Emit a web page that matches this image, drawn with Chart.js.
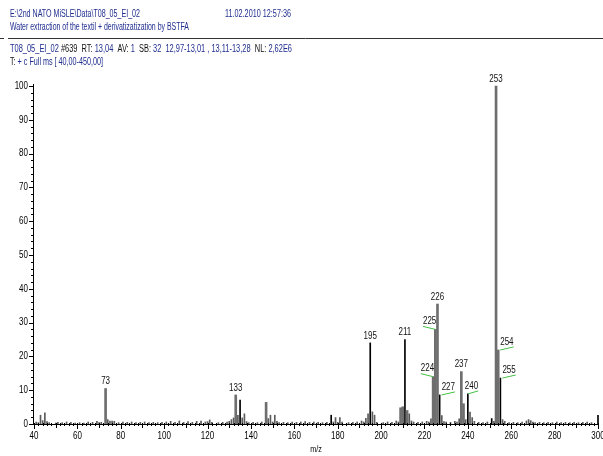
<!DOCTYPE html>
<html>
<head>
<meta charset="utf-8">
<script src="https://cdn.jsdelivr.net/npm/chart.js@4.4.1/dist/chart.umd.min.js"></script>
<style>
  html, body { margin: 0; padding: 0; background: #fff; }
  #wrap { width: 603px; height: 456px; position: relative; }
</style>
</head>
<body>
<div id="wrap"><canvas id="spec" width="603" height="456"></canvas></div>
<script>
// Mass spectrum of scan #639 (m/z and relative abundance, %)
const massValues = [41,42,43,44,45,46,47,50,51,53,55,57,59,61,63,65,67,69,70,71,
  73,74,75,76,77,79,81,83,85,87,89,91,93,95,97,99,101,103,105,107,109,111,113,115,117,119,120,121,122,125,
  127,129,130,131,132,133,134,135,136,137,138,139,141,143,145,147,148,149,150,151,152,153,155,157,159,161,163,165,167,169,
  171,173,175,177,178,179,180,181,182,185,187,189,191,192,193,194,195,196,197,198,201,203,205,207,208,209,210,211,212,213,214,215,
  217,219,221,222,223,224,225,226,227,228,229,230,232,234,235,236,237,238,239,240,241,242,243,245,247,249,251,252,253,254,255,256,257,
  259,261,263,265,267,268,269,270,271,273,275,277,279,281,283,285,287,289,291,293,295,297,300];
const abundanceValues = [0.6,0.4,2.6,1.0,3.3,0.7,0.4,0.3,0.5,0.4,0.6,0.5,0.3,0.4,0.3,0.6,0.5,0.8,0.4,0.5,
  10.5,1.3,0.9,0.9,0.8,0.4,0.6,0.5,0.6,0.4,0.5,0.6,0.4,0.5,0.4,0.5,0.6,0.8,0.5,0.9,0.5,0.7,0.5,0.8,0.9,0.6,0.7,1.2,0.5,0.4,
  0.5,0.6,0.8,1.3,1.8,8.6,2.6,7.1,1.8,3.0,0.7,0.4,0.5,0.4,0.6,6.4,1.6,2.6,0.6,2.6,0.8,0.4,0.5,0.4,0.6,0.5,0.6,0.7,0.5,0.6,
  0.5,0.4,0.5,2.6,0.6,1.9,0.5,1.9,0.6,0.4,0.5,0.6,0.9,0.6,1.7,3.0,24.0,3.6,2.6,0.5,0.4,0.6,0.5,0.9,0.6,4.8,5.1,25.0,4.0,3.0,0.9,0.6,
  0.5,0.6,0.8,0.6,1.5,14.0,28.0,35.5,8.6,2.5,0.7,0.6,0.5,0.8,0.6,1.5,15.5,6.0,1.3,8.9,3.5,1.9,0.8,0.5,0.4,0.6,1.6,0.8,100,21.9,13.6,1.3,0.8,
  0.4,0.5,0.4,0.6,0.9,1.3,1.0,0.6,0.4,0.5,0.4,0.5,0.4,0.6,0.4,0.5,0.4,0.5,0.4,0.5,0.6,0.4,2.6];

// Annotated peaks
const labelledMasses = [73,133,195,211,224,225,226,227,237,240,253,254,255];

// Axis ticks
const xTickLabels = [40,60,80,100,120,140,160,180,200,220,240,260,280,300];
const yTickLabels = [0,10,20,30,40,50,60,70,80,90,100];

// Header lines: [text, colour] segments
const BLUE = '#1f2d8f', INK = '#111';
const headerLines = [
  { x: 10, y: 17, w: 130, segs: [['E:\\2nd NATO MiSLE\\Data\\T08_05_EI_02', BLUE]] },
  { x: 225, y: 17, w: 66, segs: [['11.02.2010 12:57:36', BLUE]] },
  { x: 10, y: 30, w: 179, segs: [['Water extraction of the textil + derivatizatization by BSTFA', BLUE]] },
  { x: 10, y: 52, w: 282, segs: [['T08_05_EI_02 ', BLUE], ['#639  RT: ', INK], ['13,04', BLUE], ['  AV: ', INK], ['1', BLUE],
      ['  SB: ', INK], ['32  12,97-13,01 , 13,11-13,28', BLUE], ['  NL: ', INK], ['2,62E6', BLUE]] },
  { x: 10, y: 65, w: 93, segs: [['T: ', INK], ['+ c Full ms [ 40,00-450,00]', BLUE]] }
];

// Drawing styles
const FONT = '"Liberation Sans Narrow", "Arial Narrow", "Liberation Sans", Arial, sans-serif';
const NARROW = 0.8;
const darkMasses = new Set([135,177,195,211,227,240,251,255,300]);
const leftLabelled = new Set([224,225]);
const rightLabelled = new Set([227,240,254,255]);

const points = massValues.map((m, i) => ({ x: m, y: abundanceValues[i] }));
const darkPts = points.filter(p => darkMasses.has(p.x));
const greyPts = points.filter(p => !darkMasses.has(p.x) && p.y >= 4);
const noisePts = points.filter(p => !darkMasses.has(p.x) && p.y < 4);

function fitText(ctx, segs, x, y, width, size) {
  ctx.save();
  ctx.font = size + 'px ' + FONT;
  const full = segs.map(s => s[0]).join('');
  const natural = ctx.measureText(full).width;
  const k = width / natural;
  ctx.translate(x, y);
  ctx.scale(k, 1);
  let cx = 0;
  ctx.textBaseline = 'alphabetic';
  ctx.textAlign = 'left';
  for (const [t, c] of segs) {
    ctx.fillStyle = c;
    ctx.fillText(t, cx, 0);
    cx += ctx.measureText(t).width;
  }
  ctx.restore();
}

// condensed text; align: 'left' | 'center' | 'right' relative to x
function narrowText(ctx, txt, x, y, align, baseline) {
  const w = ctx.measureText(txt).width * NARROW;
  const left = align === 'left' ? x : (align === 'right' ? x - w : x - w / 2);
  ctx.save();
  ctx.translate(left, y);
  ctx.scale(NARROW, 1);
  ctx.textAlign = 'left';
  ctx.textBaseline = baseline;
  ctx.fillText(txt, 0, 0);
  ctx.restore();
  return w;
}

const spectrumDecor = {
  id: 'spectrumDecor',
  afterDraw(chart) {
    const ctx = chart.ctx;
    const xs = chart.scales.x, ys = chart.scales.y;
    const x0 = xs.getPixelForValue(40), x1 = xs.getPixelForValue(300);
    const y0 = ys.getPixelForValue(0), y1 = ys.getPixelForValue(100);
    ctx.save();

    // header
    headerLines.forEach(l => fitText(ctx, l.segs, l.x, l.y, l.w, 10));
    ctx.strokeStyle = '#333';
    ctx.lineWidth = 1;
    ctx.beginPath();
    ctx.moveTo(0, 38.5); ctx.lineTo(4, 38.5);
    ctx.moveTo(8, 38.5); ctx.lineTo(603, 38.5);
    ctx.stroke();

    // axes
    ctx.strokeStyle = '#000';
    ctx.beginPath();
    ctx.moveTo(x0 - 0.5, y1 - 2); ctx.lineTo(x0 - 0.5, y0 + 0.5);
    ctx.moveTo(x0 - 4, y0 + 0.5); ctx.lineTo(x1 + 1, y0 + 0.5);
    ctx.stroke();

    // y ticks
    ctx.beginPath();
    for (let v = 0; v <= 100; v += 2) {
      const py = Math.round(ys.getPixelForValue(v)) + 0.5;
      const len = v % 10 === 0 ? 5 : 3;
      ctx.moveTo(x0 - len, py); ctx.lineTo(x0, py);
    }
    // x ticks
    for (let v = 40; v <= 300; v += 2) {
      const px = Math.round(xs.getPixelForValue(v)) + 0.5;
      const len = v % 20 === 0 ? 5 : (v % 10 === 0 ? 4 : 2);
      ctx.moveTo(px, y0 - 1); ctx.lineTo(px, y0 + len);
    }
    ctx.stroke();

    ctx.fillStyle = '#000';
    ctx.font = '10px ' + FONT;
    yTickLabels.forEach(v => narrowText(ctx, String(v), x0 - 6, ys.getPixelForValue(v), 'right', 'middle'));
    xTickLabels.forEach(v => narrowText(ctx, String(v), xs.getPixelForValue(v), y0 + 7, 'center', 'top'));
    ctx.font = '9px ' + FONT;
    narrowText(ctx, 'm/z', (x0 + x1) / 2, y0 + 21, 'center', 'top');

    // peak annotations
    ctx.font = '10px ' + FONT;
    labelledMasses.forEach(m => {
      const v = abundanceValues[massValues.indexOf(m)];
      const px = xs.getPixelForValue(m), py = ys.getPixelForValue(v);
      const txt = String(m);
      const w = ctx.measureText(txt).width * NARROW;
      ctx.fillStyle = '#111';
      if (leftLabelled.has(m) || rightLabelled.has(m)) {
        const left = leftLabelled.has(m);
        const lx = left ? px + 1 - w : (m === 240 ? px - 3 : px + 2);
        const ly = py - 3;
        narrowText(ctx, txt, lx, ly, 'left', 'bottom');
        ctx.strokeStyle = '#43c043';
        ctx.beginPath();
        if (left) { ctx.moveTo(lx, ly); ctx.lineTo(px, py); }
        else { ctx.moveTo(Math.max(px, lx), py); ctx.lineTo(lx + w, ly); }
        ctx.stroke();
      } else {
        narrowText(ctx, txt, px, py - 2, 'center', 'bottom');
      }
    });
    ctx.restore();
  }
};

new Chart(document.getElementById('spec'), {
  type: 'bar',
  data: {
    datasets: [
      { data: noisePts, backgroundColor: '#5a5a5a', barThickness: 1, grouped: false, clip: false },
      { data: greyPts, backgroundColor: '#6e6e6e', barThickness: 2, grouped: false, clip: false },
      { data: darkPts, backgroundColor: '#000', barThickness: 1, grouped: false, clip: false }
    ]
  },
  options: {
    responsive: false,
    animation: false,
    events: [],
    layout: { padding: { left: 34, right: 5, top: 86, bottom: 32 } },
    plugins: { legend: { display: false }, tooltip: { enabled: false } },
    scales: {
      x: { type: 'linear', min: 40, max: 300, offset: false,
           grid: { display: false, drawTicks: false }, border: { display: false },
           ticks: { display: false } },
      y: { min: 0, max: 100,
           grid: { display: false, drawTicks: false }, border: { display: false },
           ticks: { display: false } }
    }
  },
  plugins: [spectrumDecor]
});
</script>
</body>
</html>
